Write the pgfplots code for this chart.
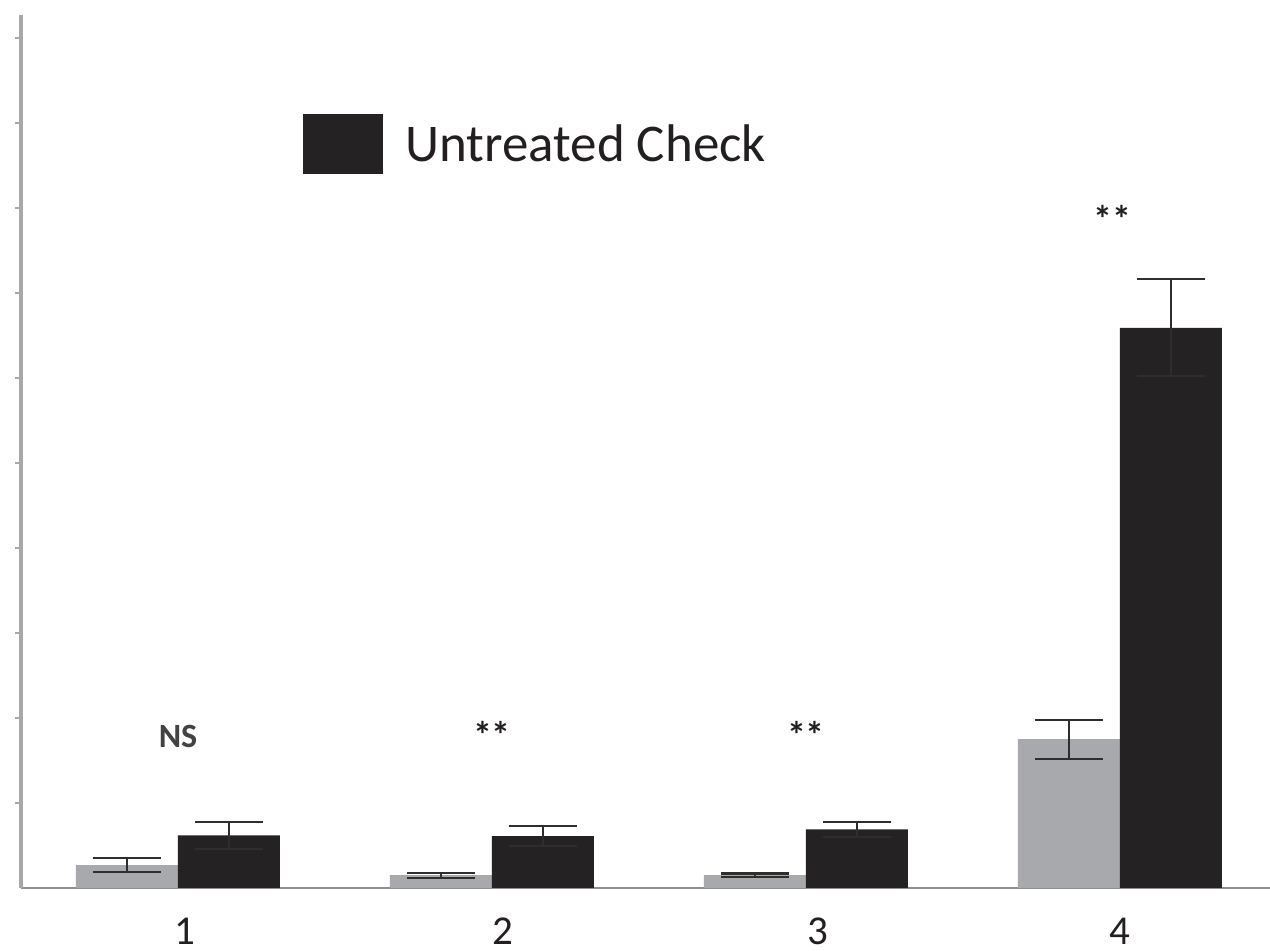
\documentclass[border=0pt]{standalone}
\usepackage{pgfplots}
\pgfplotsset{compat=1.18}
\usepackage{fontspec}
\setmainfont{Carlito}
\definecolor{bargray}{HTML}{A7A9AC}
\definecolor{barblack}{HTML}{252223}
\definecolor{axgray}{HTML}{A8A8A8}
\definecolor{errc}{HTML}{2E2E2E}
\definecolor{txt}{HTML}{231F20}
\begin{document}
\begin{tikzpicture}
\useasboundingbox (0,0) rectangle (635pt,475.5pt);
\begin{axis}[
  at={(10.5pt,31.5pt)}, anchor=south west,
  scale only axis, width=624.5pt, height=436.5pt,
  xmin=0.5, xmax=4.478, ymin=0, ymax=10.27,
  axis x line=bottom, axis y line=left,
  x axis line style={draw=axgray!85!black, line width=1pt, -},
  y axis line style={draw=axgray, line width=1.6pt, -},
  xtick={1.022,2.035,3.038,4}, xticklabels={1,2,3,4},
  xtick style={draw=none},
  xticklabel style={font=\fontsize{20.5}{20.5}\selectfont, anchor=base, inner sep=0pt, yshift=-25.5pt, text=txt},
  ytick={1,2,3,4,5,6,7,8,9,10}, yticklabels={},
  ytick style={draw=axgray, line width=0.8pt},
  tick align=outside, major tick length=3pt,
  ybar=0pt, bar width=51pt,
  legend style={at={(0.2258,0.852)}, anchor=west, draw=none, fill=none,
    font=\fontsize{26.5}{26.5}\selectfont, inner sep=0pt, text=txt,
    nodes={inner xsep=0pt}},
  legend cell align=left,
  clip=false,
]
\addplot[forget plot, fill=bargray, draw=none, bar shift=-25.5pt,
  error bars/.cd, y dir=both, y explicit,
  error bar style={errc, line width=1.1pt},
  error mark options={rotate=90, mark size=17pt, line width=1.1pt, errc}]
coordinates {(1,0.27) +- (0,0.08) (2,0.15) +- (0,0.03) (3,0.15) +- (0,0.02) (4,1.75) +- (0,0.23)};
\addplot[fill=barblack, draw=none, bar shift=25.5pt,
  legend image code/.code={\fill[barblack] (0pt,-15pt) rectangle (40pt,15pt);},
  error bars/.cd, y dir=both, y explicit,
  error bar style={errc, line width=1.1pt},
  error mark options={rotate=90, mark size=17pt, line width=1.1pt, errc}]
coordinates {(1,0.62) +- (0,0.16) (2,0.61) +- (0,0.12) (3,0.69) +- (0,0.09) (4,6.59) +- (0,0.57)};
\addlegendentry{\hspace*{11pt}Untreated Check}
\node[anchor=base, font=\fontsize{17}{17}\selectfont\bfseries, text=txt!85] at (axis cs:1,1.65) {NS};
\node[anchor=base, font=\fontsize{19}{19}\selectfont\bfseries, text=txt] at (axis cs:2,1.64) {**};
\node[anchor=base, font=\fontsize{19}{19}\selectfont\bfseries, text=txt] at (axis cs:3,1.64) {**};
\node[anchor=base, font=\fontsize{19}{19}\selectfont\bfseries, text=txt] at (axis cs:3.975,7.71) {**};
\end{axis}
\end{tikzpicture}
\end{document}
